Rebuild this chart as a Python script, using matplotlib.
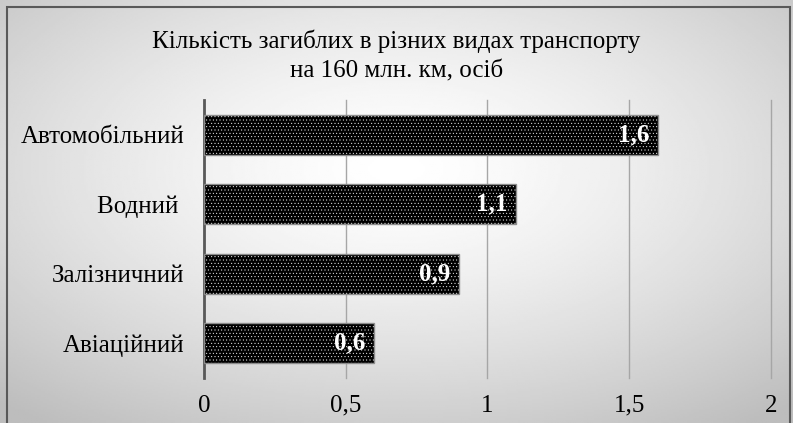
import numpy as np
import matplotlib.pyplot as plt
from matplotlib import font_manager
from matplotlib.patches import Rectangle

names = sorted({f.name for f in font_manager.fontManager.ttflist})
serif = [n for n in ['Liberation Serif', 'Times New Roman', 'DejaVu Serif'] if n in names]
plt.rcParams['font.family'] = 'serif'
plt.rcParams['font.serif'] = serif
plt.rcParams['hatch.linewidth'] = 0.3

categories = ['Авіаційний', 'Залізничний', 'Водний ', 'Автомобільний']
values = [0.6, 0.9, 1.1, 1.6]
value_labels = ['0,6', '0,9', '1,1', '1,6']
xticks = [0, 0.5, 1, 1.5, 2]
xtick_labels = ['0', '0,5', '1', '1,5', '2']
title = 'Кількість загиблих в різних видах транспорту\nна 160 млн. км, осіб'

fig = plt.figure(figsize=(7.93, 4.23), dpi=100)

# radial grey gradient background
bg = fig.add_axes([0, 0, 1, 1], zorder=0)
xx, yy = np.meshgrid(np.linspace(0, 1, 400), np.linspace(0, 1, 220))
r = np.sqrt(((xx - 0.5) / 0.75) ** 2 + ((yy - 0.4) / 0.75) ** 2)
shade = 1.0 - 0.26 * np.clip(r, 0, 1) ** 1.4
bg.imshow(shade, cmap='gray', vmin=0, vmax=1, extent=[0, 1, 0, 1],
          aspect='auto', origin='upper')
bg.add_patch(Rectangle((7 / 793, -0.1), (790 - 7) / 793, 1.1 - 7 / 423,
                       fill=False, edgecolor='#595959', linewidth=1.5,
                       transform=bg.transAxes))
bg.set_xlim(0, 1)
bg.set_ylim(0, 1)
bg.axis('off')

ax = fig.add_axes([204 / 793, 1 - 378 / 423, (771 - 204) / 793, (378 - 100) / 423], zorder=1)
ax.patch.set_alpha(0)

y = np.arange(len(categories))
ax.barh(y, values, height=0.58, color='black', edgecolor='white', hatch='.....',
        linewidth=0, zorder=3)
ax.barh(y, values, height=0.58, fill=False, edgecolor='#8c8c8c', linewidth=1, zorder=4)

for yi, v, lab in zip(y, values, value_labels):
    ax.text(v - 0.03, yi, lab, color='white', fontweight='bold', fontsize=18,
            ha='right', va='center', zorder=5)

ax.set_xlim(0, 2)
ax.set_ylim(-0.5, len(categories) - 0.5)
ax.set_xticks(xticks)
ax.set_xticklabels(xtick_labels, fontsize=18)
ax.set_yticks(y)
ax.set_yticklabels(categories, fontsize=18)
ax.tick_params(axis='y', length=0, pad=14)
ax.tick_params(axis='x', length=0, pad=12)
ax.xaxis.grid(True, color='#a6a6a6', linewidth=1)
for gl in ax.get_xgridlines():
    gl.set_clip_on(False)
ax.set_axisbelow(True)
for s in ['top', 'right', 'bottom']:
    ax.spines[s].set_visible(False)
ax.spines['left'].set_color('#595959')
ax.spines['left'].set_linewidth(2)

fig.text(0.5, 0.868, title, ha='center', va='center', fontsize=18, linespacing=1.45)

fig.savefig('out.png', dpi=100)
